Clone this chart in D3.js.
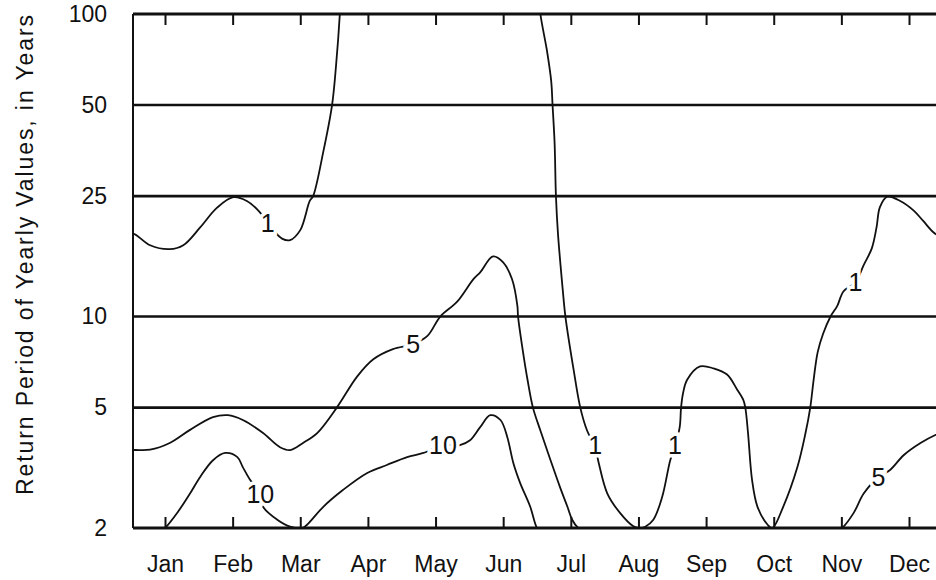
<!DOCTYPE html>
<html>
<head>
<meta charset="utf-8">
<script src="https://cdn.jsdelivr.net/npm/d3@7"></script>
<style>
    body { margin: 0; background: #fff; }
    text { font-family: 'Liberation Sans', Arial, Helvetica, sans-serif; fill: #111; }
</style>
</head>
<body>
<div id="chart"></div>
<script>
// month labels and y ticks
var months = ['Jan', 'Feb', 'Mar', 'Apr', 'May', 'Jun', 'Jul', 'Aug', 'Sep', 'Oct', 'Nov', 'Dec'];
var periodTicks = [2, 5, 10, 25, 50, 100];
var gridPeriods = [5, 10, 25, 50];

// contour lines, [month, return period in years]
var contour1West = [
    [0.45, 18.6], [0.53, 18.8], [0.78, 17.2], [1.07, 16.7], [1.27, 17.2], [1.52, 19.7], [1.77, 22.9],
    [2.01, 24.8], [2.21, 24.1], [2.38, 22.4], [2.52, 20.4], [2.60, 19.3], [2.73, 18.1],
    [2.85, 17.9], [3.0, 19.3], [3.14, 24.1], [3.19, 25], [3.34, 35], [3.47, 50],
    [3.53, 68], [3.585, 100], [3.61, 130]
];
var contour1East = [
    [6.52, 120], [6.55, 100], [6.65, 75], [6.71, 60], [6.73, 50], [6.76, 37.6], [6.78, 25],
    [6.81, 18.8], [6.88, 12.3], [6.92, 10], [7.04, 6.7], [7.14, 5], [7.24, 4.2], [7.36, 3.7],
    [7.41, 3.3], [7.54, 2.6], [7.73, 2.24], [7.92, 2.03], [8.0, 2.0], [8.10, 2.02], [8.22, 2.13],
    [8.35, 2.53], [8.47, 3.35], [8.54, 3.73], [8.61, 4.31], [8.63, 5], [8.66, 5.59], [8.72, 6.18],
    [8.91, 6.84], [9.11, 6.74], [9.31, 6.43], [9.46, 5.73], [9.55, 5.3], [9.58, 5], [9.62, 4.12],
    [9.68, 2.88], [9.76, 2.35], [9.91, 2.05], [9.98, 2.0], [10.14, 2.35], [10.35, 3.18],
    [10.47, 4.12], [10.54, 5], [10.59, 6.18], [10.65, 7.63], [10.73, 8.77], [10.84, 10],
    [10.94, 10.85], [11.03, 12.1], [11.21, 13.0], [11.33, 14.8], [11.45, 16.8], [11.52, 19.7],
    [11.57, 23.0], [11.68, 24.9], [11.87, 24.1], [12.07, 22.4], [12.21, 20.7], [12.36, 19.0],
    [12.54, 17.9]
];
var contour5West = [
    [0.45, 3.6], [0.53, 3.62], [0.78, 3.63], [1.07, 3.82], [1.37, 4.22], [1.71, 4.65], [1.93, 4.72],
    [2.15, 4.55], [2.45, 4.12], [2.70, 3.7], [2.85, 3.62], [3.04, 3.82], [3.25, 4.12],
    [3.54, 5], [3.84, 6.33], [4.08, 7.22], [4.37, 7.8], [4.67, 8.1], [4.88, 8.63], [5.07, 10],
    [5.32, 11.2], [5.56, 13.3], [5.66, 14.0], [5.85, 15.8], [6.0, 15.1], [6.13, 13.3],
    [6.21, 10.85], [6.22, 10], [6.28, 7.99], [6.36, 6.18], [6.44, 5], [6.55, 4.2], [6.70, 3.35],
    [6.84, 2.73], [6.95, 2.35], [7.02, 2.13], [7.11, 2.0], [7.2, 1.95]
];
var contour5East = [
    [10.95, 1.97], [11.01, 2.0], [11.18, 2.24], [11.33, 2.6], [11.55, 2.95], [11.72, 3.11],
    [11.92, 3.48], [12.17, 3.82], [12.39, 4.06], [12.54, 4.18]
];
var contour10 = [
    [0.95, 1.97], [1.0, 2.0], [1.19, 2.26], [1.37, 2.6], [1.52, 2.95], [1.71, 3.35], [1.89, 3.54],
    [2.07, 3.43], [2.15, 3.18], [2.26, 2.88], [2.41, 2.6], [2.45, 2.35], [2.66, 2.13],
    [2.85, 2.02], [3.03, 2.0], [3.10, 2.05], [3.34, 2.35], [3.63, 2.67], [3.99, 3.04],
    [4.28, 3.23], [4.58, 3.43], [4.82, 3.54], [5.11, 3.76], [5.36, 3.76], [5.51, 3.9],
    [5.66, 4.31], [5.81, 4.72], [5.96, 4.55], [6.06, 4.0], [6.15, 3.28], [6.25, 2.82],
    [6.40, 2.35], [6.50, 2.0], [6.55, 1.95]
];
var contourLabels = [
    { text: '1', month: 2.52, period: 20.4 },
    { text: '5', month: 4.67, period: 8.1 },
    { text: '10', month: 5.11, period: 3.76 },
    { text: '1', month: 7.36, period: 3.75 },
    { text: '10', month: 2.41, period: 2.6 },
    { text: '1', month: 8.54, period: 3.75 },
    { text: '5', month: 11.55, period: 2.95 },
    { text: '1', month: 11.21, period: 13.0 }
];

var svgWidth = 936;
var svgHeight = 580;
var plotLeft = 133;
var plotTop = 14;
var plotBottom = 528;

var svg = d3.select('#chart')
    .append('svg')
    .attr('width', svgWidth)
    .attr('height', svgHeight);

var xScale = d3.scaleLinear()
    .domain([1, 12])
    .range([165, 909]);

var yScale = d3.scaleLog()
    .domain([2, 100])
    .range([plotBottom, plotTop]);

svg.append('clipPath')
    .attr('id', 'plot-clip')
    .append('rect')
    .attr('x', plotLeft)
    .attr('y', plotTop)
    .attr('width', svgWidth - plotLeft)
    .attr('height', plotBottom - plotTop);

// grid lines
svg.selectAll('.grid')
    .data(gridPeriods)
    .enter()
    .append('line')
    .attr('x1', plotLeft)
    .attr('x2', svgWidth)
    .attr('y1', d => yScale(d))
    .attr('y2', d => yScale(d))
    .attr('stroke', '#111')
    .attr('stroke-width', 2.6);

// frame: top, bottom, left
svg.append('line')
    .attr('x1', plotLeft).attr('x2', svgWidth)
    .attr('y1', yScale(100)).attr('y2', yScale(100))
    .attr('stroke', '#111').attr('stroke-width', 3);
svg.append('line')
    .attr('x1', plotLeft).attr('x2', svgWidth)
    .attr('y1', yScale(2)).attr('y2', yScale(2))
    .attr('stroke', '#111').attr('stroke-width', 3);
svg.append('line')
    .attr('x1', plotLeft).attr('x2', plotLeft)
    .attr('y1', plotTop).attr('y2', plotBottom)
    .attr('stroke', '#111').attr('stroke-width', 2);

// month ticks top and bottom
var xTop = d3.axisTop(xScale).tickValues(d3.range(1, 13)).tickSize(-11).tickFormat('');
svg.append('g')
    .attr('transform', `translate(0, ${plotTop})`)
    .call(xTop)
    .call(g => g.select('.domain').remove())
    .call(g => g.selectAll('line').attr('stroke', '#111').attr('stroke-width', 2));

var xBottom = d3.axisBottom(xScale)
    .tickValues(d3.range(1, 13))
    .tickSize(-11)
    .tickPadding(28)
    .tickFormat(d => months[d - 1]);
svg.append('g')
    .attr('transform', `translate(0, ${plotBottom})`)
    .call(xBottom)
    .call(g => g.select('.domain').remove())
    .call(g => g.selectAll('line').attr('stroke', '#111').attr('stroke-width', 2))
    .call(g => g.selectAll('text')
        .style('font-size', '23px')
        .style('font-family', "'Liberation Sans', Arial, sans-serif")
        .attr('fill', '#111'));

// y labels
var yAxis = d3.axisLeft(yScale)
    .tickValues(periodTicks)
    .tickSize(0)
    .tickPadding(26)
    .tickFormat(d3.format('d'));
svg.append('g')
    .attr('transform', `translate(${plotLeft}, 0)`)
    .call(yAxis)
    .call(g => g.select('.domain').remove())
    .call(g => g.selectAll('text')
        .style('font-size', '23px')
        .style('font-family', "'Liberation Sans', Arial, sans-serif")
        .attr('fill', '#111'));

svg.append('text')
    .attr('transform', 'translate(33, 255) rotate(-90)')
    .attr('text-anchor', 'middle')
    .attr('textLength', 480)
    .attr('lengthAdjust', 'spacing')
    .style('font-size', '23px')
    .text('Return Period of Yearly Values, in Years');

// contours
var line = d3.line()
    .x(d => xScale(d[0]))
    .y(d => yScale(d[1]))
    .curve(d3.curveCatmullRom.alpha(0.5));

var contourGroup = svg.append('g')
    .attr('clip-path', 'url(#plot-clip)');

contourGroup.selectAll('path')
    .data([contour1West, contour1East, contour5West, contour5East, contour10])
    .enter()
    .append('path')
    .attr('d', line)
    .attr('fill', 'none')
    .attr('stroke', '#111')
    .attr('stroke-width', 1.8);

svg.selectAll('.contour-label')
    .data(contourLabels)
    .enter()
    .append('text')
    .attr('class', 'contour-label')
    .attr('x', d => xScale(d.month))
    .attr('y', d => yScale(d.period))
    .attr('dy', '0.36em')
    .attr('text-anchor', 'middle')
    .style('font-size', '25px')
    .style('stroke', '#fff')
    .style('stroke-width', 7)
    .style('paint-order', 'stroke')
    .text(d => d.text);
</script>
</body>
</html>
